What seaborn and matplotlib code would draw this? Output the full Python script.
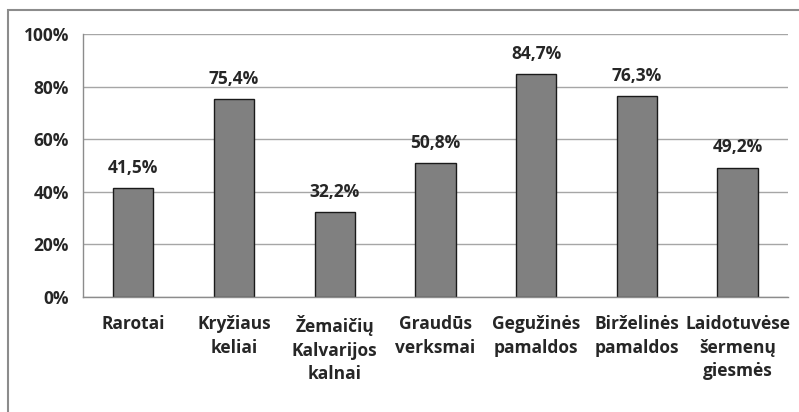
import matplotlib
matplotlib.use("Agg")
import matplotlib.pyplot as plt
import matplotlib.patches as mpatches
from matplotlib.ticker import FuncFormatter, FixedLocator
import pandas as pd
import seaborn as sns

# Data
categories = [
    "Rarotai",
    "Kryžiaus\nkeliai",
    "Žemaičių\nKalvarijos\nkalnai",
    "Graudūs\nverksmai",
    "Gegužinės\npamaldos",
    "Birželinės\npamaldos",
    "Laidotuvėse\nšermenų\ngiesmės",
]
values = [41.5, 75.4, 32.2, 50.8, 84.7, 76.3, 49.2]
value_labels = ["41,5%", "75,4%", "32,2%", "50,8%", "84,7%", "76,3%", "49,2%"]
y_ticks = [0, 20, 40, 60, 80, 100]

df = pd.DataFrame({"category": categories, "value": values})

sns.set_style("white")
plt.rcParams["font.family"] = ["Open Sans", "DejaVu Sans"]
plt.rcParams["font.weight"] = "bold"

fig = plt.figure(figsize=(7.99, 4.12), dpi=100)
ax = fig.add_axes([83 / 799, 1 - 297 / 412, 705 / 799, 263 / 412])

sns.barplot(
    data=df, x="category", y="value", ax=ax,
    color="#808080", edgecolor="#1a1a1a", linewidth=1.0,
    width=0.4, saturation=1,
)

ax.set_ylim(0, 100)
ax.set_xlim(-0.5, len(categories) - 0.5)
ax.yaxis.set_major_locator(FixedLocator(y_ticks))
ax.yaxis.set_major_formatter(FuncFormatter(lambda v, p: f"{int(v)}%"))
ax.grid(axis="y", color="#a6a6a6", linewidth=1.0)
ax.set_axisbelow(True)

for s in ["top", "right"]:
    ax.spines[s].set_visible(False)
for s in ["left", "bottom"]:
    ax.spines[s].set_color("#8c8c8c")
    ax.spines[s].set_linewidth(1.0)

# x ticks at category boundaries, labels centered
ax.set_xticks([i + 0.5 for i in range(-1, len(categories))], minor=False)
ax.set_xticklabels([])
ax.set_xticks(range(len(categories)), minor=True)
ax.set_xticklabels(categories, minor=True, fontsize=12.5, fontweight="bold",
                   linespacing=1.4, va="top")
ax.tick_params(axis="x", which="major", length=6, color="#8c8c8c", width=1)
ax.tick_params(axis="x", which="minor", length=0, pad=13)
ax.tick_params(axis="y", length=6, color="#8c8c8c", width=1, labelsize=12.5, pad=4)
for t in ax.get_yticklabels():
    t.set_fontweight("bold")

ax.set_xlabel("")
ax.set_ylabel("")

for i, (v, lab) in enumerate(zip(values, value_labels)):
    ax.annotate(lab, (i, v), xytext=(0, 8), textcoords="offset points",
                ha="center", va="bottom", fontsize=12.5, fontweight="bold")

# outer chart border (top and left visible)
fig.patches.append(mpatches.Rectangle(
    (8 / 799, -0.1), 1.1, 1 - 10 / 412 + 0.1, transform=fig.transFigure,
    fill=False, edgecolor="#8c8c8c", linewidth=1.5, figure=fig))

fig.savefig("out.png", dpi=100, facecolor="white")
